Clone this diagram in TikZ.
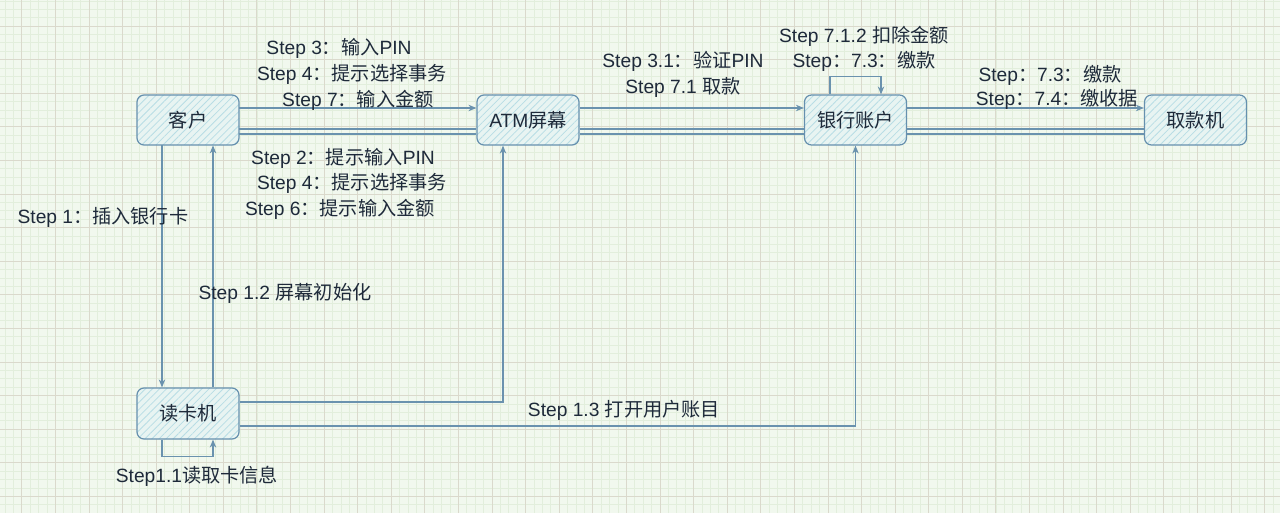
\documentclass[tikz,border=0pt]{standalone}
\usepackage{fontspec}
\setmainfont{Liberation Sans}
\newfontfamily\cjk{Noto Sans CJK SC}
\usetikzlibrary{arrows.meta,patterns.meta}
\definecolor{bg}{HTML}{F1F8EE}
\definecolor{gminor}{HTML}{E2EEDC}
\definecolor{gmajor}{HTML}{DAD9CC}
\definecolor{boxc}{HTML}{6690AE}
\definecolor{boxfill}{HTML}{E8F4F2}
\definecolor{hatch}{HTML}{B8DDE5}
\definecolor{linec}{HTML}{6A92AE}
\definecolor{txt}{HTML}{1E2A3A}
\newcommand\zh[1]{{\cjk #1}}
\begin{document}
\begin{tikzpicture}[x=1pt,y=-1pt,
  box/.style={draw=boxc, line width=1.2pt, rounded corners=7pt,
    minimum width=102pt, minimum height=50pt,
    preaction={fill=boxfill},
    pattern={Lines[angle=45,distance=5pt,line width=0.8pt]}, pattern color=hatch,
    font=\fontsize{19.2}{23}\selectfont, text=txt, inner sep=0pt},
  lab/.style={font=\fontsize{19.2}{23}\selectfont, text=txt, inner sep=0pt, anchor=center},
  conn/.style={draw=linec, line width=1.1pt},
  arr/.style={conn, -{Stealth[length=8pt,width=6.5pt]}}]
\useasboundingbox (0,0) rectangle (1280,513);
\fill[bg] (0,0) rectangle (1280,513);
% grid
\foreach \i in {0,...,152} {\draw[gminor, line width=0.6pt] ({4.905+\i*8.3975},0) -- ({4.905+\i*8.3975},513);}
\foreach \i in {0,...,61} {\draw[gminor, line width=0.6pt] (0,{0.81+\i*8.3975}) -- (1280,{0.81+\i*8.3975});}
\foreach \i in {0,...,37} {\draw[gmajor, line width=0.7pt] ({21.7+\i*33.59},0) -- ({21.7+\i*33.59},513);}
\foreach \i in {0,...,15} {\draw[gmajor, line width=0.7pt] (0,{26+\i*33.59}) -- (1280,{26+\i*33.59});}
% boxes
\node[box] (kh) at (188,120) {\zh{客户}};
\node[box] (atm) at (528,120) {ATM\zh{屏幕}};
\node[box] (bank) at (855.5,120) {\zh{银行账户}};
\node[box] (qk) at (1195.5,120) {\zh{取款机}};
\node[box, minimum height=51pt] (dk) at (188,413.5) {\zh{读卡机}};
% horizontal connectors
\draw[arr] ([yshift=12pt]kh.east) -- ([yshift=12pt]atm.west);
\draw[conn] ([yshift=-9pt]kh.east) -- ([yshift=-9pt]atm.west);
\draw[conn] ([yshift=-14pt]kh.east) -- ([yshift=-14pt]atm.west);
\draw[arr] ([yshift=12pt]atm.east) -- ([yshift=12pt]bank.west);
\draw[conn] ([yshift=-9pt]atm.east) -- ([yshift=-9pt]bank.west);
\draw[conn] ([yshift=-14pt]atm.east) -- ([yshift=-14pt]bank.west);
\draw[arr] ([yshift=12pt]bank.east) -- ([yshift=12pt]qk.west);
\draw[conn] ([yshift=-9pt]bank.east) -- ([yshift=-9pt]qk.west);
\draw[conn] ([yshift=-14pt]bank.east) -- ([yshift=-14pt]qk.west);
% bank self loop
\draw[arr] ([xshift=-25.5pt]bank.north) -- ++(0,-18) -| ([xshift=25.5pt]bank.north);
% vertical connectors
\draw[arr] ([xshift=-26pt]kh.south) -- ([xshift=-26pt]dk.north);
\draw[arr] ([xshift=25pt]dk.north) -- ([xshift=25pt]kh.south);
\draw[arr] ([xshift=-26pt]dk.south) -- ++(0,17) -| ([xshift=25pt]dk.south);
\draw[arr] ([yshift=11.5pt]dk.east) -| ([xshift=-25pt]atm.south);
\draw[arr] ([yshift=-12.5pt]dk.east) -| (bank.south);
% labels
\node[lab] (l1) at (339,48) {Step 3\zh{：输入}PIN};
\node[lab] (l2) at (352,74) {Step 4\zh{：提示选择事务}};
\node[lab] (l3) at (358,100) {Step 7\zh{：输入金额}};
\node[lab] (l4) at (343,158) {Step 2\zh{：提示输入}PIN};
\node[lab] (l5) at (352,183) {Step 4\zh{：提示选择事务}};
\node[lab] (l6) at (340,209) {Step 6\zh{：提示输入金额}};
\node[lab] (l7) at (103,217) {Step 1\zh{：插入银行卡}};
\node[lab] (l8) at (285,293) {Step 1.2 \zh{屏幕初始化}};
\node[lab] (l9) at (197,476) {Step1.1\zh{读取卡信息}};
\node[lab] (l10) at (624,410) {Step 1.3 \zh{打开用户账目}};
\node[lab] (l11) at (683,61) {Step 3.1\zh{：验证}PIN};
\node[lab] (l12) at (683,87) {Step 7.1 \zh{取款}};
\node[lab] (l13) at (864,36) {Step 7.1.2 \zh{扣除金额}};
\node[lab] (l14) at (864,61) {Step\zh{：}7.3\zh{：缴款}};
\node[lab] (l15) at (1050,75) {Step\zh{：}7.3\zh{：缴款}};
\node[lab] (l16) at (1057,99) {Step\zh{：}7.4\zh{：缴收据}};
\end{tikzpicture}
\end{document}
